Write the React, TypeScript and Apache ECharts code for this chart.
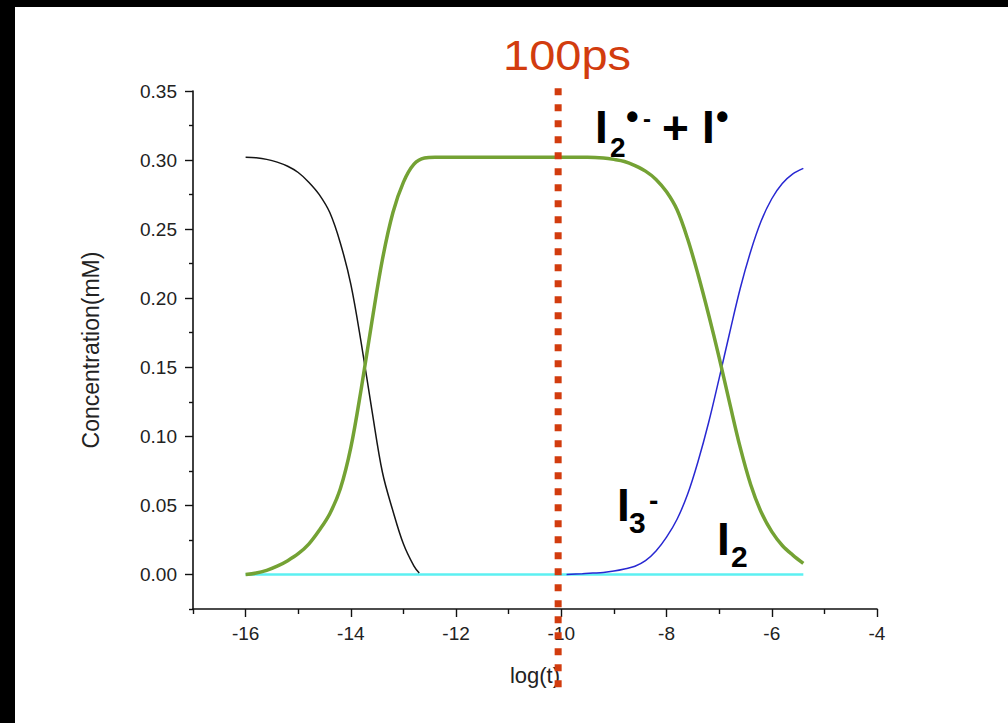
import React, { useEffect, useRef } from "react";
import * as echarts from "echarts";

// ---- data ----
const blackX = [-16.0, -15.8, -15.6, -15.4, -15.2, -15.0, -14.8, -14.6, -14.4, -14.2, -14.0, -13.8, -13.6, -13.4, -13.2, -13.0, -12.8, -12.7];
const blackY = [0.302, 0.3016, 0.3005, 0.2985, 0.2955, 0.291, 0.284, 0.275, 0.262, 0.24, 0.21, 0.167, 0.119, 0.074, 0.046, 0.022, 0.006, 0.001];

const greenX = [-16.0, -15.8, -15.6, -15.4, -15.2, -15.0, -14.8, -14.6, -14.4, -14.2, -14.0, -13.8, -13.6, -13.4, -13.2, -13.0, -12.8, -12.6, -12.4, -12.0, -11.5, -11.0, -10.5, -10.0, -9.5, -9.2, -9.0, -8.8, -8.6, -8.4, -8.2, -8.0, -7.8, -7.6, -7.4, -7.2, -7.0, -6.8, -6.6, -6.4, -6.2, -6.0, -5.8, -5.6, -5.4];
const greenY = [0.0, 0.001, 0.003, 0.006, 0.01, 0.015, 0.022, 0.032, 0.044, 0.062, 0.092, 0.135, 0.183, 0.228, 0.262, 0.284, 0.297, 0.3015, 0.302, 0.302, 0.302, 0.302, 0.302, 0.302, 0.302, 0.3015, 0.3005, 0.299, 0.296, 0.292, 0.286, 0.277, 0.264, 0.243, 0.217, 0.188, 0.157, 0.124, 0.092, 0.065, 0.045, 0.031, 0.021, 0.014, 0.008];

const blueX = [-9.9, -9.6, -9.4, -9.2, -9.0, -8.8, -8.6, -8.4, -8.2, -8.0, -7.8, -7.6, -7.4, -7.2, -7.0, -6.8, -6.6, -6.4, -6.2, -6.0, -5.8, -5.6, -5.4];
const blueY = [0.0, 0.0005, 0.001, 0.0015, 0.0025, 0.004, 0.006, 0.01, 0.017, 0.027, 0.04, 0.058, 0.082, 0.11, 0.142, 0.175, 0.207, 0.234, 0.256, 0.272, 0.283, 0.29, 0.294];

const cyanX = [-16.0, -5.4];
const cyanY = [0.0, 0.0];

// 100 ps marker (log t = -10)
const markerX = [-10.06, -10.06];
const markerY = [0.352, -0.082];

const xMajorTicks = [-16, -14, -12, -10, -8, -6, -4];
const xMinorTicks = [-17, -15, -13, -11, -9, -7, -5];
const yMajorTicks = [0, 0.05, 0.1, 0.15, 0.2, 0.25, 0.3, 0.35];
const yMinorTicks = [-0.025, 0.025, 0.075, 0.125, 0.175, 0.225, 0.275, 0.325];

const zip = (xs: number[], ys: number[]) => xs.map((x, i) => [x, ys[i]]);

const FONT = '"Liberation Sans", Arial, Helvetica, sans-serif';
const AXIS_COLOR = "#111";

function txt(text: string, x: number, y: number, size: number, color = "#000", weight: any = "bold", scaleX = 1) {
  return {
    type: "text",
    x,
    y,
    scaleX,
    z: 100,
    style: {
      text,
      fill: color,
      fontSize: size,
      fontWeight: weight,
      fontFamily: FONT,
      align: "left",
      textAlign: "left",
      verticalAlign: "middle",
      textVerticalAlign: "middle",
    },
  };
}

export default function App() {
  const ref = useRef<HTMLDivElement>(null);
  useEffect(() => {
    if (!ref.current) return;
    const chart = echarts.init(ref.current, undefined, { renderer: "svg" });
    const axisLine = { show: true, onZero: false, lineStyle: { color: AXIS_COLOR, width: 1.6 } };
    const hiddenLine = { show: false, onZero: false };
    const option: any = {
      animation: false,
      backgroundColor: "#fff",
      textStyle: { fontFamily: FONT },
      grid: { left: 193, right: 131, top: 91, bottom: 114, containLabel: false },
      xAxis: [
        {
          type: "value",
          min: -17,
          max: -4,
          position: "bottom",
          axisLine,
          axisTick: { show: true, customValues: xMajorTicks, length: 8, lineStyle: { color: AXIS_COLOR, width: 1.4 } },
          axisLabel: { customValues: xMajorTicks, fontSize: 19, color: "#222", margin: 15, fontFamily: FONT, formatter: (v: number) => String(v) },
          splitLine: { show: false },
          name: "log(t)",
          nameLocation: "middle",
          nameGap: 55,
          nameTextStyle: { fontSize: 22, color: "#222", fontFamily: FONT },
        },
        {
          type: "value",
          min: -17,
          max: -4,
          position: "bottom",
          axisLine: hiddenLine,
          axisTick: { show: true, customValues: xMinorTicks, length: 5, lineStyle: { color: AXIS_COLOR, width: 1.4 } },
          axisLabel: { show: false },
          splitLine: { show: false },
        },
      ],
      yAxis: [
        {
          type: "value",
          min: -0.025,
          max: 0.35,
          position: "left",
          axisLine,
          axisTick: { show: true, customValues: yMajorTicks, length: 8, lineStyle: { color: AXIS_COLOR, width: 1.4 } },
          axisLabel: { customValues: yMajorTicks, fontSize: 19, color: "#222", margin: 16, fontFamily: FONT, formatter: (v: number) => v.toFixed(2) },
          splitLine: { show: false },
          name: "Concentration(mM)",
          nameLocation: "middle",
          nameRotate: 90,
          nameGap: 91,
          nameTextStyle: { fontSize: 23, color: "#222", fontFamily: FONT },
        },
        {
          type: "value",
          min: -0.025,
          max: 0.35,
          position: "left",
          axisLine: hiddenLine,
          axisTick: { show: true, customValues: yMinorTicks, length: 4, lineStyle: { color: AXIS_COLOR, width: 1.4 } },
          axisLabel: { show: false },
          splitLine: { show: false },
        },
      ],
      series: [
        {
          name: "cyan",
          type: "line",
          data: zip(cyanX, cyanY),
          symbol: "none",
          lineStyle: { color: "#5cf0f2", width: 2.5 },
          z: 2,
        },
        {
          name: "black",
          type: "line",
          data: zip(blackX, blackY),
          smooth: 0.35,
          symbol: "none",
          lineStyle: { color: "#151515", width: 1.5 },
          z: 3,
        },
        {
          name: "blue",
          type: "line",
          data: zip(blueX, blueY),
          smooth: 0.35,
          symbol: "none",
          lineStyle: { color: "#2828d2", width: 1.5 },
          z: 3,
        },
        {
          name: "green",
          type: "line",
          data: zip(greenX, greenY),
          smooth: 0.35,
          symbol: "none",
          lineStyle: { color: "#74a234", width: 3.5 },
          z: 4,
        },
        {
          name: "100ps",
          type: "line",
          data: zip(markerX, markerY),
          symbol: "none",
          clip: false,
          lineStyle: { color: "#d23c0e", width: 7, type: [7, 9], cap: "butt" },
          z: 10,
        },
      ],
      graphic: [
        { type: "rect", shape: { x: 0, y: 0, width: 1008, height: 7 }, style: { fill: "#000" }, z: 200 },
        { type: "rect", shape: { x: 0, y: 0, width: 15, height: 723 }, style: { fill: "#000" }, z: 200 },
        txt("100ps", 503, 55, 42, "#d23c0e", "normal", 1.12),
        // I2•- + I•
        txt("I", 595, 127, 46),
        txt("2", 610, 147, 28),
        txt("•", 626, 116, 36),
        txt("-", 643, 118, 24),
        txt("+", 662, 128, 46),
        txt("I", 702, 127, 46),
        txt("•", 716, 116, 36),
        // I3-
        txt("I", 617, 505, 46),
        txt("3", 629, 522, 30),
        txt("-", 649, 500, 28),
        // I2
        txt("I", 717, 539, 46),
        txt("2", 731, 556, 30),
      ],
    };
    chart.setOption(option);
    return () => chart.dispose();
  }, []);
  return <div ref={ref} style={{ position: "fixed", left: 0, top: 0, width: 1008, height: 723 }} />;
}
